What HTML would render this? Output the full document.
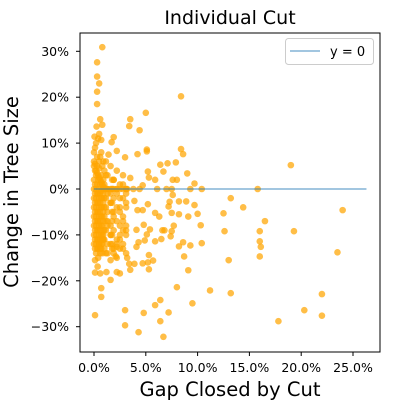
<!DOCTYPE html>
<html><head><meta charset="utf-8"><style>
body{margin:0;background:#fff;}
svg{display:block;font-family:"DejaVu Sans","Liberation Sans",sans-serif;}
</style></head><body>
<svg id="chart" width="400" height="400"></svg>
<script>
const outX = [
0.8,0.3,0.3,0.5,0.3,0.3,0.6,0.25,3.5,3.4,
4.4,5.0,8.4,0.05,1.9,0.7,1.7,5.1,5.1,4.2,
8.4,8.6,3.0,2.2,1.4,6.4,7.1,7.9,19,6.7,
5.2,9.0,5.3,3.5,5.9,7.6,8.0,9.7,4.7,6.1,
7.0,7.5,9.3,10.4,15.8,13.2,14.4,24.0,12.5,12.6,
16.0,19.3,16.5,16.0,16.1,16.0,23.5,13.0,11.2,13.2,
22.0,22.0,20.3,17.8,9.1,9.5,8.0,8.7,8.2,8.6,
10.4,9.3,10.3,10.0,9.1,8.2,9.7,8.2,8.9,7.2,
7.5,7.3,7.6,7.7,7.5,7.4,6.6,6.8,6.5,5.9,
6.3,5.9,5.2,4.7,5.4,4.8,5.1,4.9,5.3,5.2,
5.7,4.7,5.3,3.9,3.4,3.5,3.2,3.0,3.0,4.3,
4.8,5.9,6.4,7.2,6.4,6.7,0.1,0.7,0.7,1.6,
0.1,0.6,1.2,2.2,2.5,1.6,0.1,0.35,2.1,2.2,
4.1,4.3,4.1,4.2,3.9,4.4,3.8,3.2,0.8,0.5];
const outY = [
30.9,27.6,24.5,23,21.2,18.5,15.2,13.6,15.2,13.7,
12.8,16.6,20.2,11.4,11.3,10.7,10.2,8.6,8.2,7.6,
8.7,7.6,6.9,8.3,7.5,5.3,5.6,5.8,5.2,3.8,
3.8,3.4,2.5,2.4,2.0,2.0,2.0,1.2,0.8,0,
0,0,0,0,0,-2.0,-4.0,-4.6,-5.3,-9.2,
-9.2,-9.2,-7.0,-11.4,-12.6,-14.7,-13.8,-15.5,-22.1,-22.7,
-22.9,-27.6,-26.4,-28.8,-17.7,-24.9,-21.4,-14.7,-12.5,-11.6,
-11.8,-12.3,-7.9,-5.4,-6.0,-5.5,-3.5,-2.7,-2.7,-3.8,
-5.2,-2.8,-1.3,-8.0,-9.2,-10.3,-9.0,-9.0,-10.9,-11.4,
-6.0,-5.2,-3.3,-4.6,-8.8,-7.8,-9.9,-11.2,-14.4,-16.0,
-15.6,-16.2,-17.5,-16.3,-16.3,-17.6,-15.0,-26.4,-29.7,-31.2,
-27.0,-25.3,-24.2,-26.9,-28.8,-32.2,-27.5,-21.6,-23.5,-19.8,
-18.2,-18.4,-18.1,-18.1,-18.4,-15.5,-15.5,-16.9,-14.7,-12.6,
-12.6,-11.6,-8.9,-4.6,-2.6,0,0,0,14,12];
const coreAX = [
0,0.1,0.2,0.3,0.4,0.5,0.6,0.7,0.8,0.9,
0,0.1,0.2,0.3,0.4,0.5,0.6,0.7,0.8,0.9,
0,0.1,0.2,0.3,0.4,0.5,0.6,0.7,0.8,0.9,
0,0.1,0.2,0.3,0.4,0.5,0.6,0.7,0.8,0.9,
0,0.1,0.2,0.3,0.4,0.5,0.6,0.7,0.8,0.9,
0,0.1,0.2,0.3,0.4,0.5,0.6,0.7,0.8,0.9,
0,0.1,0.2,0.3,0.4,0.5,0.6,0.7,0.8,0.9,
0,0.1,0.2,0.3,0.4,0.5,0.6,0.7,0.8,0.9,
0,0.1,0.2,0.3,0.4,0.5,0.6,0.7,0.8,0.9,
0,0.1,0.2,0.3,0.4,0.5,0.6,0.7,0.8,0.9,
0,0.1,0.2,0.3,0.4,0.5,0.6,0.7,0.8,0.9];
const coreAY = [
6,5.5,4,5,3,4.5,2,3,1,2,
5,4,3,3.5,2,2.5,1,1.5,0,0.5,
2,1,0,1,-1,0,-1,-0.5,-2,-1,
0,-1,-2,-1,-3,-2,-3,-2,-4,-3,
-2,-3,-4,-3,-5,-4,-5,-4,-6,-5,
-4,-5,-6,-5,-7,-6,-7,-6,-8,-7,
-6,-7,-8,-7,-9,-8,-9,-8,-10,-9,
-8,-9,-10,-9,-11,-10,-11,-10,-12,-11,
-10,-11,-12,-11,-13,-12,-13,-12,-14,-11,
-12,-13,-14,-13,-15,-12,-14,-13,-11,-10,
8,9,10,7,11,6,7,8,5,6];
const coreBX = [
1.0,1.3,1.6,1.9,2.2,2.5,2.8,3.1,1.15,1.75,
1.0,1.3,1.6,1.9,2.2,2.5,2.8,3.1,1.15,1.75,
1.0,1.3,1.6,1.9,2.2,2.5,2.8,3.1,1.15,1.75,
1.0,1.3,1.6,1.9,2.2,2.5,2.8,3.1,1.15,1.75,
1.0,1.3,1.6,1.9,2.2,2.5,2.8,3.1,1.15,1.75,
1.0,1.3,1.6,1.9,2.2,2.5,2.8,3.1,1.15,1.75,
1.0,1.3,1.6,1.9,2.2,2.5,2.8,3.1,1.15,1.75,
1.0,1.3,1.6,1.9,2.2,2.5,2.8,3.1,1.15,1.75,
1.0,1.3,1.6,1.9,2.2,2.5,2.8,3.1,1.15,1.75];
const coreBY = [
4,3,5,2,4,1,3,0,6,2,
1,0,-1,2,0,-2,1,-1,3,0,
-2,-1,-3,-2,-1,-4,-2,-3,0,-3,
-4,-5,-3,-6,-4,-5,-7,-4,-2,-5,
-6,-7,-8,-5,-7,-8,-6,-9,-4,-7,
-9,-8,-10,-9,-11,-10,-9,-8,-7,-10,
-11,-12,-10,-13,-12,-11,-13,-10,-9,-12,
-13,-14,-12,-14,-15,-13,-12,-14,-14,-13,
0,0,0,0,0,0,0,0,0,0];
const xs = outX.concat(coreAX, coreBX);
const ys = outY.concat(coreAY, coreBY);
const xTicks = [0,5,10,15,20,25];
const yTicks = [30,20,10,0,-10,-20,-30];
const lineX = [0,26.3];
const NS="http://www.w3.org/2000/svg";
const svg=document.getElementById('chart');
const X=v=>94+v*10.36, Y=v=>189-v*4.59;
function mk(t,a,p){const e=document.createElementNS(NS,t);for(const k in a)e.setAttribute(k,a[k]);(p||svg).appendChild(e);return e;}
const g=mk('g',{});


const n=Math.min(xs.length,ys.length);
for(let i=0;i<n;i++){
 const c=mk('circle',{cx:X(xs[i]),cy:Y(ys[i]),r:3.3,fill:'#ffa500','fill-opacity':0.72},g);
 
 
}
const zl=mk('line',{x1:X(lineX[0]),x2:X(lineX[1]),y1:Y(0),y2:Y(0),stroke:'#1f77b4','stroke-opacity':0.55,'stroke-width':1.5});


const fr=mk('rect',{x:80,y:33,width:300,height:319,fill:'none',stroke:'#000','stroke-width':1});


xTicks.forEach(t=>{
 mk('line',{x1:X(t),x2:X(t),y1:352,y2:356,stroke:'#000'});
 const tx=mk('text',{x:X(t),y:372,'text-anchor':'middle','font-size':12.5});
 tx.textContent=t.toFixed(1)+'%';
 
 
});
yTicks.forEach(t=>{
 mk('line',{x1:76,x2:80,y1:Y(t),y2:Y(t),stroke:'#000'});
 const tx=mk('text',{x:69,y:Y(t)+4.5,'text-anchor':'end','font-size':12.5});
 tx.textContent=(t<0?'\u2212'+(-t):t)+'%';
 
 
});
</script>
<svg style="position:absolute;left:0;top:0" width="400" height="400">
<text x="230" y="24" text-anchor="middle" font-size="19">Individual Cut</text>
<text x="230" y="396" text-anchor="middle" font-size="19.5">Gap Closed by Cut</text>
<text transform="translate(18,192) rotate(-90)" text-anchor="middle" font-size="19.5">Change in Tree Size</text>
<g>
<rect x="285.5" y="38.5" width="88" height="26" rx="3" fill="#fff" fill-opacity="0.8" stroke="#ccc"/>
<line x1="290" x2="320" y1="51" y2="51" stroke="#1f77b4" stroke-opacity="0.55" stroke-width="1.5"/>
<text x="330" y="56" font-size="13">y = 0</text>
</g>
</svg>
</body></html>
